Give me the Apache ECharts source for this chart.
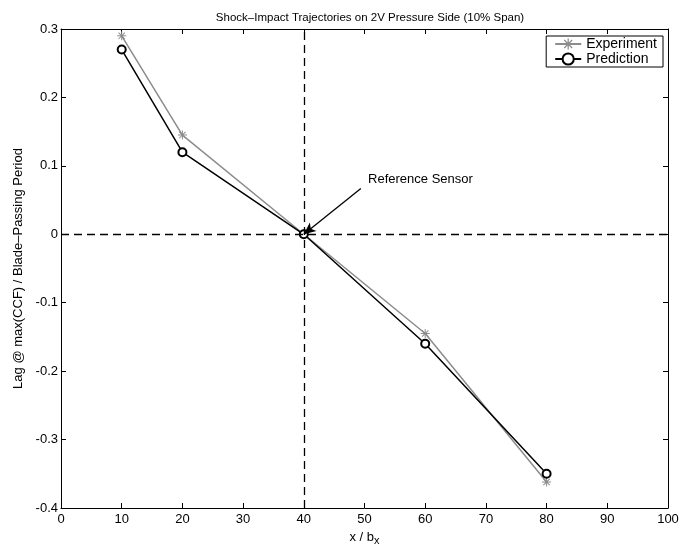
<!DOCTYPE html>
<html>
<head>
<meta charset="utf-8">
<script src="https://cdn.jsdelivr.net/npm/echarts@6/dist/echarts.min.js"></script>
<style>
html, body { margin: 0; padding: 0; background: #fff; }
#chart { width: 689px; height: 546px; }
</style>
</head>
<body>
<div id="chart"></div>
<script>
var xPositions = [10, 20, 40, 60, 80];
var experiment = [0.29, 0.145, 0, -0.145, -0.362];
var prediction = [0.27, 0.12, 0, -0.16, -0.35];
var refSensor = [40, 0];
var arrowStart = [49.4, 0.067];
var labelAt = [50.5, 0.08];

// asterisk marker: + and x made of thin bars
function asterisk() {
	var p = '';
	[0, 45, 90, 135].forEach(function (a) {
		var r = a * Math.PI / 180, L = 5, w = 0.55;
		var c = Math.cos(r), s = Math.sin(r);
		var pts = [[-L, -w], [L, -w], [L, w], [-L, w]].map(function (q) {
			return (q[0] * c - q[1] * s).toFixed(2) + ',' + (q[0] * s + q[1] * c).toFixed(2);
		});
		p += 'M' + pts[0] + 'L' + pts[1] + 'L' + pts[2] + 'L' + pts[3] + 'Z';
	});
	return 'path://' + p;
}

function pairs(ys) {
	return xPositions.map(function (x, i) { return [x, ys[i]]; });
}

var font = 'Liberation Sans';
var dom = document.getElementById('chart');
var myChart = echarts.init(dom);

var boxAxis = {
	axisLine: { show: true, onZero: false, lineStyle: { color: '#000', width: 1 } },
	axisTick: { inside: true, length: 5, lineStyle: { color: '#000' } },
	splitLine: { show: false }
};

var option = {
	backgroundColor: '#fff',
	animation: false,
	textStyle: { fontFamily: font },
	title: {
		text: 'Shock\u2013Impact Trajectories on 2V Pressure Side (10% Span)',
		left: 365,
		textAlign: 'center',
		top: 7,
		textStyle: { fontSize: 11.5, fontWeight: 'normal', color: '#000', fontFamily: font }
	},
	legend: {
		right: 26,
		top: 36,
		orient: 'vertical',
		backgroundColor: '#fff',
		borderColor: '#000',
		borderWidth: 1,
		borderRadius: 0,
		padding: [1, 6, 1, 8],
		itemGap: 1,
		itemWidth: 26,
		itemHeight: 14,
		textStyle: { fontSize: 14, color: '#000', fontFamily: font },
		data: ['Experiment', 'Prediction']
	},
	grid: { left: 61, right: 21, top: 29, bottom: 38, outerBoundsMode: 'none' },
	xAxis: [Object.assign({
		type: 'value', min: 0, max: 100, interval: 10,
		name: 'x / b{sub|x}',
		nameLocation: 'middle',
		nameGap: 17,
		nameTextStyle: {
			fontSize: 13, color: '#000',
			rich: { sub: { fontSize: 11, verticalAlign: 'bottom', padding: [7, 0, 0, 0] } }
		},
		axisLabel: { color: '#000', fontSize: 13, margin: 5 }
	}, boxAxis), Object.assign({
		type: 'value', min: 0, max: 100, interval: 10, position: 'top',
		axisLabel: { show: false }
	}, boxAxis)],
	yAxis: [Object.assign({
		type: 'value', min: -0.4, max: 0.3, interval: 0.1,
		name: 'Lag @ max(CCF) / Blade\u2013Passing Period',
		nameLocation: 'middle',
		nameGap: 36,
		nameTextStyle: { fontSize: 13, color: '#000' },
		axisLabel: {
			color: '#000', fontSize: 13, margin: 3,
			formatter: function (v) {
				var r = Math.round(v * 10) / 10;
				return r === 0 ? '0' : r.toFixed(1);
			}
		}
	}, boxAxis), Object.assign({
		type: 'value', min: -0.4, max: 0.3, interval: 0.1, position: 'right',
		axisLabel: { show: false }
	}, boxAxis)],
	series: [{
		name: 'Experiment',
		type: 'line',
		data: pairs(experiment),
		symbol: asterisk(),
		symbolSize: 9,
		itemStyle: { color: '#8c8c8c' },
		lineStyle: { color: '#8c8c8c', width: 1.5 },
		z: 3
	}, {
		name: 'Prediction',
		type: 'line',
		data: pairs(prediction),
		symbol: 'emptyCircle',
		symbolSize: 8,
		itemStyle: { color: '#000', borderWidth: 1.2 },
		lineStyle: { color: '#000', width: 1.5 },
		z: 4,
		markLine: {
			silent: true,
			symbol: 'none',
			lineStyle: { color: '#000', type: [8, 5], width: 1.3 },
			label: { show: false },
			data: [{ xAxis: refSensor[0] }, { yAxis: refSensor[1] }]
		}
	}, {
		name: 'annotation',
		type: 'line',
		data: [],
		markLine: {
			silent: true,
			symbol: ['none', 'arrow'],
			symbolSize: [8, 12],
			lineStyle: { color: '#000', type: 'solid', width: 1.3 },
			label: { show: false },
			data: [[{ coord: arrowStart }, { coord: refSensor }]]
		},
		markPoint: {
			silent: true,
			symbol: 'circle',
			symbolSize: 1,
			itemStyle: { color: 'rgba(0,0,0,0)' },
			label: {
				show: true,
				position: 'right',
				distance: 0,
				formatter: 'Reference Sensor',
				color: '#000',
				fontSize: 13,
				fontFamily: font
			},
			data: [{ coord: labelAt }]
		}
	}]
};

myChart.setOption(option);
</script>
</body>
</html>
